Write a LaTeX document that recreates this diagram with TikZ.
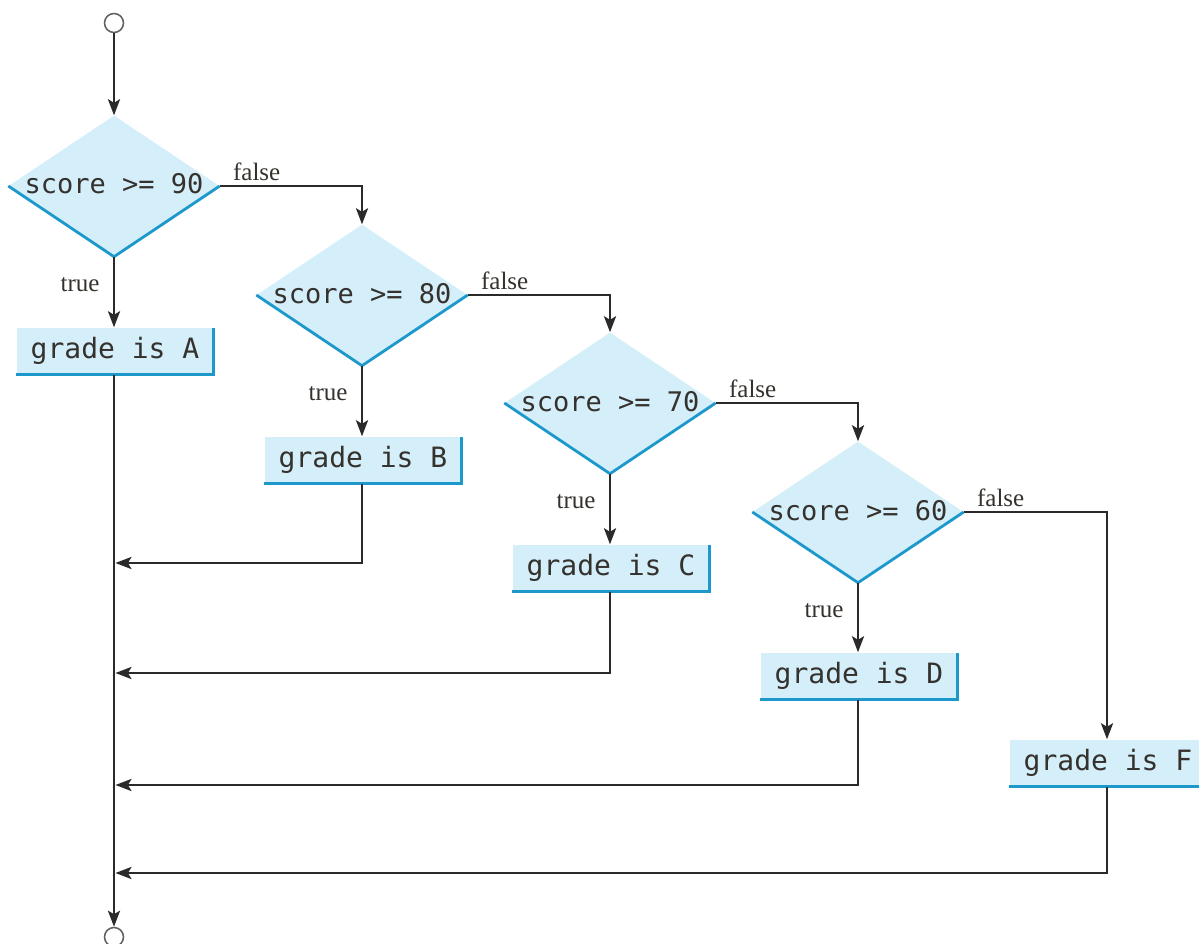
\documentclass[tikz,border=0pt]{standalone}
\usepackage{fontspec}
\usetikzlibrary{shapes.geometric,arrows.meta,calc}
\newfontfamily\monof{DejaVu Sans Mono}
\newfontfamily\labf{Liberation Serif}
\definecolor{boxfill}{HTML}{D4EEFA}
\definecolor{edgeblue}{HTML}{1C98CB}
\definecolor{ink}{HTML}{2A2A2A}
\definecolor{txt}{HTML}{35312D}
\tikzset{
  decision/.style={shape=diamond, fill=boxfill, minimum width=211pt, minimum height=141pt,
    inner sep=0pt, text height=0pt, text depth=0pt, font=\monof\fontsize{27}{27}\selectfont, text=txt},
  action/.style={shape=rectangle, fill=boxfill, minimum width=197pt, minimum height=47pt,
    inner sep=0pt, font=\monof\fontsize{28}{28}\selectfont, text=txt},
  terminal/.style={shape=circle, draw=ink!75, line width=1.5pt, fill=white, minimum size=19pt, inner sep=0pt},
  conn/.style={draw=ink, line width=2.7pt, -{Stealth[length=16pt,width=12pt,inset=3.5pt]}},
  blueedge/.style={draw=edgeblue, line width=2.8pt},
  lbl/.style={font=\labf\fontsize{25}{25}\selectfont, text=txt, inner sep=0pt},
}
\newcommand{\dtext}[1]{\makebox[0pt]{\raisebox{-8pt}{#1}}}
\begin{document}
\begin{tikzpicture}[x=1pt,y=-1pt]
\useasboundingbox (0,0) rectangle (1199,944);
% terminals
\node[terminal] (start) at (114,23) {};
\node[terminal] (stop) at (114,937) {};
% decisions
\node[decision] (d1) at (114,186) {\dtext{score >= 90}};
\node[decision] (d2) at (362,295) {\dtext{score >= 80}};
\node[decision] (d3) at (610,403) {\dtext{score >= 70}};
\node[decision] (d4) at (858,512) {\dtext{score >= 60}};
\foreach \d in {d1,d2,d3,d4}{
  \draw[blueedge, line join=miter] (\d.west) -- (\d.south) -- (\d.east);
}
% actions
\node[action] (A) at (115,351) {grade is A};
\node[action] (B) at (363,460) {grade is B};
\node[action] (C) at (611,568) {grade is C};
\node[action] (D) at (859,676) {grade is D};
\node[action] (F) at (1108,763) {grade is F};
\foreach \b in {A,B,C,D,F}{
  \draw[blueedge] ([yshift=-1pt]\b.north east) -- (\b.south east) -- (\b.south west);
}
% join points on the main line
\coordinate (j1) at (114,563);
\coordinate (j2) at (114,673);
\coordinate (j3) at (114,785);
\coordinate (j4) at (114,873);
% connectors
\draw[conn] (start) -- (d1.north);
\draw[conn] (d1.south) -- (d1.south |- A.north);
\draw[conn] (d2.south) -- (d2.south |- B.north);
\draw[conn] (d3.south) -- (d3.south |- C.north);
\draw[conn] (d4.south) -- (d4.south |- D.north);
\draw[conn] (d1.east) -| (d2.north);
\draw[conn] (d2.east) -| (d3.north);
\draw[conn] (d3.east) -| (d4.north);
\draw[conn] (d4.east) -| ([xshift=-1pt]F.north);
\draw[conn] (d1.south |- A.south) -- (stop.north);
\draw[conn, shorten >=1.4pt] (d2.south |- B.south) |- (j1);
\draw[conn, shorten >=1.4pt] (d3.south |- C.south) |- (j2);
\draw[conn, shorten >=1.4pt] (d4.south |- D.south) |- (j3);
\draw[conn, shorten >=1.4pt] ([xshift=-1pt]F.south) |- (j4);
% labels
\node[lbl] (f1) at ($(d1.east)+(37,-14)$) {false};
\node[lbl] (f2) at ($(d2.east)+(37,-14)$) {false};
\node[lbl] (f3) at ($(d3.east)+(37,-14)$) {false};
\node[lbl] (f4) at ($(d4.east)+(37,-14)$) {false};
\node[lbl] (t1) at ($(d1.south)+(-34,28)$) {true};
\node[lbl] (t2) at ($(d2.south)+(-34,28)$) {true};
\node[lbl] (t3) at ($(d3.south)+(-34,28)$) {true};
\node[lbl] (t4) at ($(d4.south)+(-34,28)$) {true};
\end{tikzpicture}
\end{document}
